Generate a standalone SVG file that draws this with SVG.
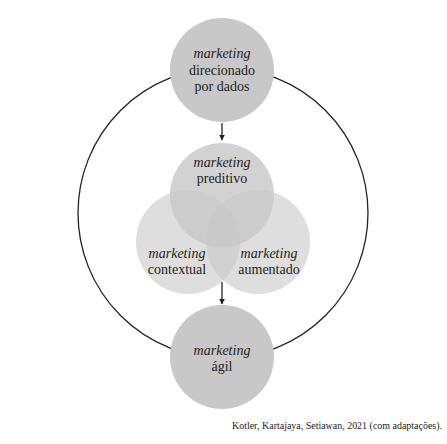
<svg xmlns="http://www.w3.org/2000/svg" width="447" height="444" viewBox="0 0 447 444">
<defs>
<style>
.t{font-size:14px;fill:#222;text-anchor:middle}
.i{font-style:italic}
.solid{fill:#c8c8c8}
.venn{fill:#c8c8c8;fill-opacity:0.6}
.vp{fill:#c7c7c7;fill-opacity:0.8}
.line{stroke:#222;stroke-width:1.3;fill:none}
</style>
<marker id="ah" viewBox="0 0 10 10" refX="9" refY="5" markerWidth="6" markerHeight="6" orient="auto" markerUnits="userSpaceOnUse">
<path d="M0,0 L10,5 L0,10 z" fill="#222"/>
</marker>
</defs>
<rect width="447" height="444" fill="#fff"/>
<g id="connectors">
<circle class="line" cx="223" cy="213" r="145"/>
<line class="line" x1="222" y1="123" x2="222" y2="140" marker-end="url(#ah)"/>
<line class="line" x1="222" y1="282" x2="222" y2="304" marker-end="url(#ah)"/>
</g>
<g font-family="Liberation Serif, Times New Roman, serif">
<g id="node-dados">
<circle class="solid" cx="222" cy="70" r="52"/>
<text class="t i" x="222" y="58">marketing</text>
<text class="t" x="222" y="75">direcionado</text>
<text class="t" x="222" y="91">por dados</text>
</g>
<g id="node-contextual">
<circle class="venn" cx="188" cy="242" r="52"/>
<text class="t i" x="177" y="258">marketing</text>
<text class="t" x="177" y="274">contextual</text>
</g>
<g id="node-aumentado">
<circle class="venn" cx="258" cy="242" r="52"/>
<text class="t i" x="269" y="258">marketing</text>
<text class="t" x="269" y="274">aumentado</text>
</g>
<g id="node-preditivo">
<circle class="vp" cx="222" cy="195" r="52"/>
<text class="t i" x="222" y="167">marketing</text>
<text class="t" x="222" y="183">preditivo</text>
</g>
<g id="node-agil">
<circle class="solid" cx="222" cy="357" r="52"/>
<text class="t i" x="222" y="355">marketing</text>
<text class="t" x="222" y="371">ágil</text>
</g>
<text x="232" y="429" font-size="9.8" fill="#222" textLength="210" lengthAdjust="spacingAndGlyphs">Kotler, Kartajaya, Setiawan, 2021 (com adaptações).</text>
</g>
</svg>
